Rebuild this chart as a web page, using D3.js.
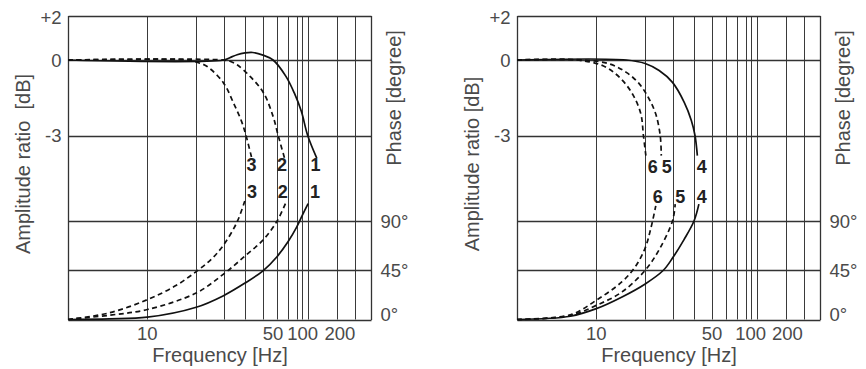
<!DOCTYPE html>
<html>
<head>
<meta charset="utf-8">
<script src="https://cdn.jsdelivr.net/npm/d3@7"></script>
<style>
  html, body { margin: 0; padding: 0; background: #fff; }
  svg text { font-family: "Liberation Sans", Arial, Helvetica, sans-serif; }
</style>
</head>
<body>
<svg id="chart" width="866" height="369"></svg>
<script>
// ---------------- DATA ----------------
// Frequencies [Hz] for vertical grid lines and tick labels
const gridFreqs = [10, 20, 30, 40, 50, 60, 70, 80, 90, 100, 200, 300];
const tickFreqs = [10, 50, 100, 200];
const ampTicks = [2, 0, -3];            // dB
const ampTickLabels = ["+2", "0", "-3"];
const phaseTicks = [90, 45, 0];          // degree
const phaseTickLabels = ["90°", "45°", "0°"];

// Left chart: amplitude ratio [dB] vs frequency [Hz]
const amp1 = [[3.2,0],[30,0],[33,0.12],[36,0.24],[40,0.32],[44,0.34],[50,0.22],[57,0],[68,-0.65],[77,-1.31],[88,-2.04],[100,-3],[124,-3.9]];
const amp2 = [[3.2,0],[30,0],[33,-0.06],[36,-0.19],[42.6,-0.65],[50.4,-1.31],[57,-2.24],[61,-3],[66.7,-3.9]];
const amp3 = [[3.2,0],[17.5,0],[20,-0.08],[23.4,-0.25],[30,-0.91],[34.3,-1.71],[38.2,-2.44],[40.5,-3],[43.5,-3.9]];
// Left chart: phase [degree] vs frequency [Hz]
const ph1 = [[3.2,0],[5.8,0.6],[10,2.1],[20,11.2],[30,21.8],[40,33.3],[50,44.5],[60,57.4],[70,71],[80,84.6],[90,95.3],[101,105.9]];
const ph2 = [[3.2,0],[5.8,3.9],[10,9.1],[20,24.2],[30,41.5],[40,58],[50,72.6],[60,89.8],[68,107]];
const ph3 = [[3.2,0],[5.8,6.1],[10,18.1],[15,31],[20,43.8],[25,55],[30,68],[36,89.2],[40,108.9]];

// Right chart: amplitude ratio [dB]
const amp4 = [[3.2,0],[15.3,0],[20,-0.14],[24.6,-0.42],[30,-0.89],[35.1,-1.68],[38.6,-2.4],[40.5,-3],[41.7,-3.8]];
const amp5 = [[3.2,0],[8.25,0],[12.1,-0.16],[15.3,-0.49],[18.4,-0.95],[21.2,-1.55],[23.4,-2.15],[25,-3],[25.4,-3.8]];
const amp6 = [[3.2,0],[7.5,0],[11,-0.23],[13.9,-0.69],[16.7,-1.35],[18.8,-2.14],[19.5,-3],[20.2,-3.8]];
// Right chart: phase [degree]
const ph4 = [[3.2,0],[6.9,3],[10,9.9],[14.4,20.6],[20,32.5],[26.2,45],[30,56.1],[35,73],[40,90],[42.5,105.4]];
const ph5 = [[3.2,0],[6.9,3.7],[10,12.9],[14.4,25.2],[20,45],[24.6,63.8],[30,90],[31.1,105.4]];
const ph6 = [[3.2,0],[6.9,4.3],[10,17.6],[14.4,34.5],[17.4,48.4],[20,65.4],[21.8,83.9],[23.4,103.8]];

// Curve labels: [name, amplitude-label freq, phase-label freq]
const labelsLeft  = [["1",120.3,119],["2",64.3,65],["3",43.4,43.6]];
const labelsRight = [["4",44.1,44.1],["5",27.5,33.3],["6",22.4,24.1]];

// ---------------- LAYOUT ----------------
const svg = d3.select("#chart");
svg.append("rect").attr("width",866).attr("height",369).attr("fill","#fff");

const W = 303;
const TOP = 16, Y0 = 60, YM3 = 135.5, PH0 = 319.5, PH90 = 221;
// non-uniform (hand-drawn) log frequency axis: piecewise log scale
const X_DOMAIN = [3.2,10,20,30,40,50,60,70,80,90,100,200,300,450];
const X_POS = [0,79.3,128.2,155.5,177,195,209,220,228.8,234.4,239.7,268.9,286.5,303];

const TXT = "#4a4a4a";
const GRID = "#3a3a3a";

function drawPanel(x0, series, labels, ampTitle, tickDx, labelPos) {
  const g = svg.append("g");
  const x = d3.scaleLog().domain(X_DOMAIN).range(X_POS.map(p => x0 + p * W / 303));
  const yA = d3.scaleLinear().domain([2, 0, -3]).range([TOP, Y0, YM3]);
  const yP = d3.scaleLinear().domain([0, 90]).range([PH0, PH90]);
  const crisp = v => Math.round(v) + 0.5;

  // vertical grid lines
  g.selectAll("line.vg").data(gridFreqs).enter().append("line")
    .attr("x1", d => crisp(x(d))).attr("x2", d => crisp(x(d)))
    .attr("y1", TOP).attr("y2", PH0)
    .attr("stroke", GRID).attr("stroke-width", 1);
  // frame left/right
  [X_DOMAIN[0], X_DOMAIN[X_DOMAIN.length-1]].forEach(f => {
    g.append("line").attr("x1", crisp(x(f))).attr("x2", crisp(x(f)))
      .attr("y1", TOP).attr("y2", PH0 + 0.5)
      .attr("stroke", "#333").attr("stroke-width", 1.3);
  });
  const xl = crisp(x(X_DOMAIN[0])), xr = crisp(x(X_DOMAIN[X_DOMAIN.length-1]));
  // amplitude horizontal lines
  g.selectAll("line.ha").data(ampTicks).enter().append("line")
    .attr("x1", xl).attr("x2", xr)
    .attr("y1", d => crisp(yA(d))).attr("y2", d => crisp(yA(d)))
    .attr("stroke", "#333").attr("stroke-width", 1.3);
  // phase horizontal lines
  g.selectAll("line.hp").data(phaseTicks).enter().append("line")
    .attr("x1", xl).attr("x2", xr)
    .attr("y1", d => crisp(yP(d))).attr("y2", d => crisp(yP(d)))
    .attr("stroke", "#333").attr("stroke-width", 1.3);

  // amplitude tick labels
  g.selectAll("text.ya").data(ampTicks).enter().append("text")
    .attr("x", xl - 7).attr("y", d => yA(d) + (d === 2 ? 1.5 : 0)).attr("dy", "0.36em")
    .attr("text-anchor", "end").attr("font-size", 18.5).attr("fill", TXT)
    .text((d, i) => ampTickLabels[i]);
  // phase tick labels
  g.selectAll("text.yp").data(phaseTicks).enter().append("text")
    .attr("x", xr + 9).attr("y", d => yP(d) - (d === 0 ? 5 : 0)).attr("dy", "0.36em")
    .attr("text-anchor", "start").attr("font-size", 18.5).attr("fill", TXT)
    .text((d, i) => phaseTickLabels[i]);
  // x tick labels
  g.selectAll("text.xt").data(tickFreqs).enter().append("text")
    .attr("x", (d, i) => x(d) + tickDx[i]).attr("y", 340)
    .attr("text-anchor", "middle").attr("font-size", 18.5).attr("fill", TXT)
    .text(d => d);

  // titles
  g.append("text").attr("x", (xl + xr) / 2).attr("y", 362)
    .attr("text-anchor", "middle").attr("font-size", 20).attr("fill", TXT)
    .text("Frequency [Hz]");
  g.append("text").attr("transform", `translate(${xl - 46},164) rotate(-90)`)
    .attr("dy", "0.35em").attr("text-anchor", "middle").attr("font-size", 20)
    .attr("fill", TXT).style("white-space", "pre").text(ampTitle);
  g.append("text").attr("transform", `translate(${xr + 22},98) rotate(-90)`)
    .attr("dy", "0.35em").attr("text-anchor", "middle").attr("font-size", 20)
    .attr("fill", TXT).text("Phase [degree]");

  // curves
  const lineA = d3.line().x(d => x(d[0])).y(d => yA(d[1])).curve(d3.curveCatmullRom.alpha(0.5));
  const lineP = d3.line().x(d => x(d[0])).y(d => yP(d[1])).curve(d3.curveCatmullRom.alpha(0.5));
  series.forEach(s => {
    g.append("path").attr("d", lineA(s.amp)).attr("fill", "none")
      .attr("stroke", "#111").attr("stroke-width", 1.7)
      .attr("stroke-dasharray", s.dashed ? "5,3.5" : null);
    g.append("path").attr("d", lineP(s.phase)).attr("fill", "none")
      .attr("stroke", "#111").attr("stroke-width", 1.7)
      .attr("stroke-dasharray", s.dashed ? "5,3.5" : null);
  });

  // curve labels
  labels.forEach(l => {
    g.append("text").attr("x", x(l[1])).attr("y", yA(labelPos[0])).attr("dy", "0.36em")
      .attr("text-anchor", "middle").attr("font-size", 18).attr("font-weight", "bold")
      .attr("fill", "#222").text(l[0]);
    g.append("text").attr("x", x(l[2])).attr("y", yP(labelPos[1])).attr("dy", "0.36em")
      .attr("text-anchor", "middle").attr("font-size", 18).attr("font-weight", "bold")
      .attr("fill", "#222").text(l[0]);
  });
}

drawPanel(68, [
  {amp: amp1, phase: ph1, dashed: false},
  {amp: amp2, phase: ph2, dashed: true},
  {amp: amp3, phase: ph3, dashed: true}
], labelsLeft, "Amplitude ratio  [dB]", [0, 10, -5, 3], [-4.17, 116.8]);

drawPanel(517, [
  {amp: amp4, phase: ph4, dashed: false},
  {amp: amp5, phase: ph5, dashed: true},
  {amp: amp6, phase: ph6, dashed: true}
], labelsRight, "Amplitude ratio [dB]", [0, 0, -6, 1.5], [-4.24, 112.2]);
</script>
</body>
</html>
